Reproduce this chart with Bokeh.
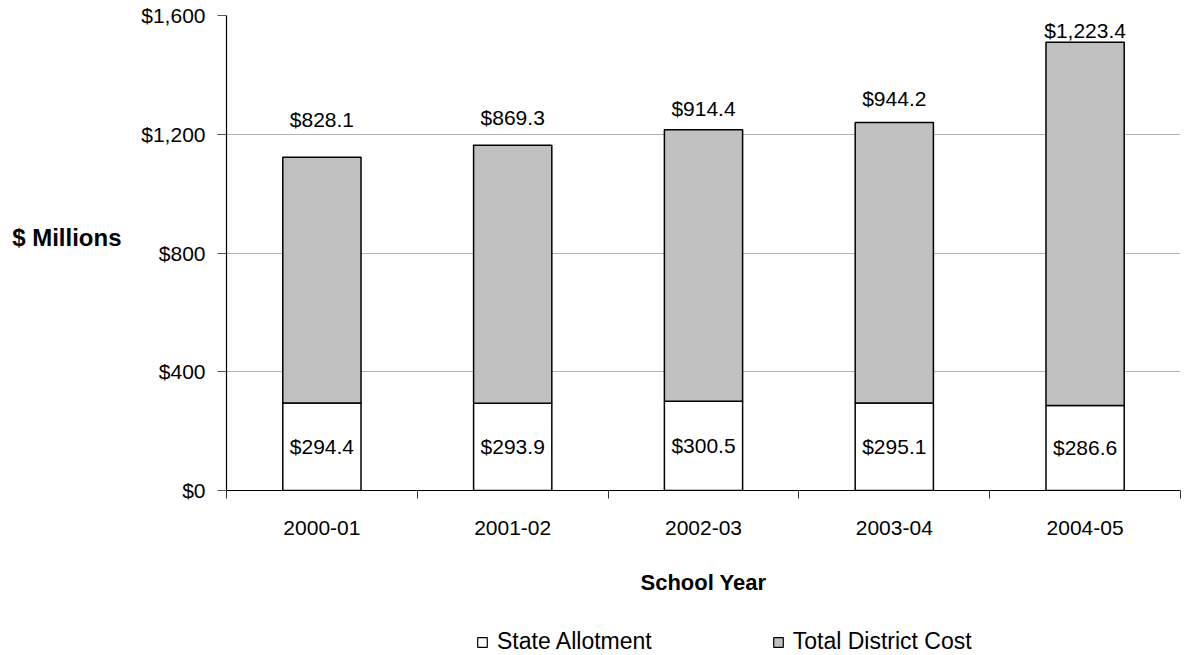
from bokeh.plotting import figure
from bokeh.layouts import column
from bokeh.models import (ColumnDataSource, FixedTicker, NumeralTickFormatter,
                          LinearAxis, LabelSet, Legend, LegendItem)
from bokeh.core.properties import value
from bokeh.embed import file_html
from bokeh.resources import INLINE

years = ["2000-01", "2001-02", "2002-03", "2003-04", "2004-05"]
state_allotment = [294.4, 293.9, 300.5, 295.1, 286.6]
district_cost = [828.1, 869.3, 914.4, 944.2, 1223.4]
y_ticks = [0, 400, 800, 1200, 1600]
series_names = ["State Allotment", "Total District Cost"]

# layout only: how far above each bar top its label sits ($M)
top_label_offsets = [126, 93, 71, 81, 39]

FONT = "Liberation Sans"
GRAY = "#c0c0c0"

xs = [i + 0.5 for i in range(len(years))]
tops = [a + b for a, b in zip(state_allotment, district_cost)]
src = ColumnDataSource(dict(
    x=xs,
    state=state_allotment,
    district=district_cost,
    top_y=[t + o for t, o in zip(tops, top_label_offsets)],
    mid_y=[s / 2 for s in state_allotment],
    top_txt=["${:,.1f}".format(v) for v in district_cost],
    bot_txt=["${:,.1f}".format(v) for v in state_allotment],
))

p = figure(width=1201, height=597, x_range=(0, len(years)), y_range=(0, 1600),
           output_backend="svg", toolbar_location=None,
           min_border_left=226, min_border_right=21, min_border_top=15,
           min_border_bottom=100)
p.outline_line_color = None
p.background_fill_color = "white"

rs = p.vbar_stack(["state", "district"], x="x", width=0.41, source=src,
                  fill_color=["white", GRAY], line_color="black",
                  line_width=1.5)

# value labels
for ycol, tcol in (("top_y", "top_txt"), ("mid_y", "bot_txt")):
    p.add_layout(LabelSet(x="x", y=ycol, text=tcol, source=src,
                          text_align="center", text_baseline="middle",
                          text_font=value(FONT), text_font_size="21px",
                          text_color="black"))

# y axis
p.yaxis.ticker = FixedTicker(ticks=y_ticks, minor_ticks=[])
p.yaxis.formatter = NumeralTickFormatter(format="$0,0")
p.yaxis.major_label_text_font = FONT
p.yaxis.major_label_text_font_size = "21px"
p.yaxis.major_label_text_color = "black"
p.yaxis.major_tick_in = 0
p.yaxis.major_tick_out = 9
p.yaxis.major_tick_line_color = "#555555"
p.yaxis.axis_line_color = "black"
p.yaxis.axis_line_width = 1.2
p.yaxis.major_label_standoff = 12

# "$ Millions" title, horizontal, left of the y axis
title_axis = LinearAxis(ticker=FixedTicker(ticks=[852], minor_ticks=[]),
                        major_label_overrides={852: "$ Millions"},
                        axis_line_color=None, major_tick_line_color=None,
                        minor_tick_line_color=None,
                        major_tick_in=0, major_tick_out=0,
                        major_label_standoff=17,
                        major_label_text_font=FONT,
                        major_label_text_font_size="24px",
                        major_label_text_font_style="bold",
                        major_label_text_color="black")
p.add_layout(title_axis, "left")

p.ygrid.ticker = FixedTicker(ticks=y_ticks)
p.ygrid.grid_line_color = "#b4b4b4"
p.ygrid.grid_line_width = 1
p.xgrid.visible = False

# x axis: ticks between categories, labels at centres
p.xaxis.ticker = FixedTicker(ticks=xs, minor_ticks=list(range(len(years) + 1)))
p.xaxis.major_label_overrides = {x: y for x, y in zip(xs, years)}
p.xaxis.major_tick_in = 0
p.xaxis.major_tick_out = 0
p.xaxis.minor_tick_in = 0
p.xaxis.minor_tick_out = 8
p.xaxis.minor_tick_line_color = "#333333"
p.xaxis.axis_line_color = "black"
p.xaxis.axis_line_width = 1.2
p.xaxis.major_label_standoff = 22
p.xaxis.major_label_text_font = FONT
p.xaxis.major_label_text_font_size = "21px"
p.xaxis.major_label_text_color = "black"
p.xaxis.axis_label = "School Year"
p.xaxis.axis_label_text_font = FONT
p.xaxis.axis_label_text_font_size = "22px"
p.xaxis.axis_label_text_font_style = "bold"
p.xaxis.axis_label_text_color = "black"
p.xaxis.axis_label_standoff = 32

# legend strip: zero-width copies of the series kept out of view (below the
# strip, under the opaque legend box); they only provide the legend swatches
lf = figure(width=1201, height=58, x_range=(-1.83, 6.29), y_range=(2000, 2100),
            x_axis_type=None, y_axis_type=None, output_backend="svg",
            toolbar_location=None, min_border=0)
lf.outline_line_color = None
lf.xgrid.visible = False
lf.ygrid.visible = False
lrs = lf.vbar_stack(["state", "district"], x="x", width=0, source=src,
                    fill_color=["white", GRAY], line_color="black",
                    line_width=1.2)
legend = Legend(items=[LegendItem(label=series_names[0], renderers=[lrs[0]]),
                       LegendItem(label=series_names[1], renderers=[lrs[1]])],
                orientation="horizontal", location=(250, 0),
                glyph_width=12, glyph_height=12, label_standoff=9,
                spacing=120, padding=0, margin=0,
                border_line_color=None, background_fill_color="white",
                background_fill_alpha=1,
                label_text_font=FONT, label_text_font_size="23px",
                label_text_color="black")
lf.add_layout(legend, "center")

layout = column(p, lf, spacing=0)
open("out.html", "w").write(file_html(layout, INLINE))
